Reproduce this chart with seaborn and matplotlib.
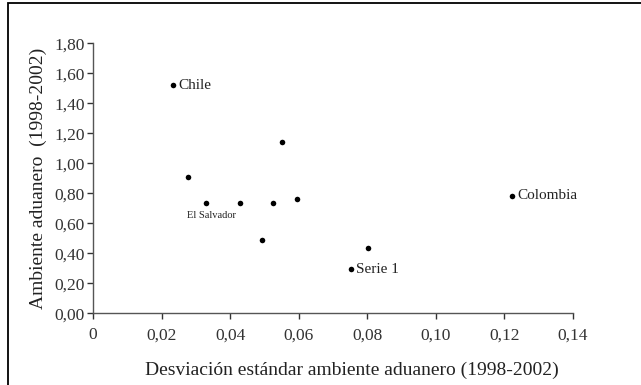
import matplotlib
matplotlib.use("Agg")
import matplotlib.pyplot as plt
import seaborn as sns
import pandas as pd
from matplotlib.patches import Rectangle
from matplotlib.ticker import FixedLocator

sns.set_theme(style="ticks")
plt.rcParams['font.family'] = ['Liberation Serif', 'DejaVu Serif']

# Data
desviacion = [0.0233, 0.0551, 0.0277, 0.0330, 0.0429, 0.0525, 0.0596, 0.0493, 0.0803, 0.0752, 0.1223]
ambiente = [1.52, 1.14, 0.91, 0.735, 0.735, 0.735, 0.762, 0.489, 0.433, 0.295, 0.784]
etiquetas = ["Chile", "", "", "El Salvador", "", "", "", "", "", "Serie 1", "Colombia"]
x_ticks = [0, 0.02, 0.04, 0.06, 0.08, 0.10, 0.12, 0.14]
x_tick_labels = ["0", "0,02", "0,04", "0,06", "0,08", "0,10", "0,12", "0,14"]
y_ticks = [0.0, 0.2, 0.4, 0.6, 0.8, 1.0, 1.2, 1.4, 1.6, 1.8]
y_tick_labels = ["0,00", "0,20", "0,40", "0,60", "0,80", "1,00", "1,20", "1,40", "1,60", "1,80"]

df = pd.DataFrame({"x": desviacion, "y": ambiente, "label": etiquetas})

fig = plt.figure(figsize=(6.41, 3.85), dpi=100)
ax = fig.add_axes([93/641, 1-313.3/385, 480/641, 270/385])

sns.scatterplot(data=df, x="x", y="y", ax=ax, color="black", s=16, edgecolor="black", linewidth=0, zorder=3)

for _, r in df.iterrows():
    if r["label"] == "El Salvador":
        ax.annotate(r["label"], (r["x"], r["y"]), xytext=(-14, -9), textcoords="offset points",
                    fontsize=7.5, ha="left", va="center", color="#222222")
    elif r["label"]:
        ax.annotate(r["label"], (r["x"], r["y"]), xytext=(4, 0), textcoords="offset points",
                    fontsize=11, ha="left", va="center", color="#222222")

ax.set_xlim(0, 0.14)
ax.set_ylim(0, 1.8)
ax.xaxis.set_major_locator(FixedLocator(x_ticks))
ax.yaxis.set_major_locator(FixedLocator(y_ticks))
ax.set_xticklabels(x_tick_labels)
ax.set_yticklabels(y_tick_labels)
ax.tick_params(axis="both", labelsize=12.5, colors="#333333", length=4, width=1, direction="out", pad=3)
ax.tick_params(axis="x", pad=6)
ax.tick_params(axis="y", pad=2)
for s in ["top", "right"]:
    ax.spines[s].set_visible(False)
for s in ["left", "bottom"]:
    ax.spines[s].set_color("#555555")
    ax.spines[s].set_linewidth(1)

ax.set_xlabel("Desviación estándar ambiente aduanero (1998-2002)", fontsize=14, color="#222222")
ax.xaxis.set_label_coords(0.5385, -0.18)
ax.set_ylabel("Ambiente aduanero  (1998-2002)", fontsize=14, color="#222222", labelpad=5)

# figure frame
fig.patches.append(Rectangle((7.5/641, -0.05), 1.2, 1.05 - 2.5/385, transform=fig.transFigure,
                             fill=False, edgecolor="black", linewidth=1.3))

fig.savefig("out.png", dpi=100)
